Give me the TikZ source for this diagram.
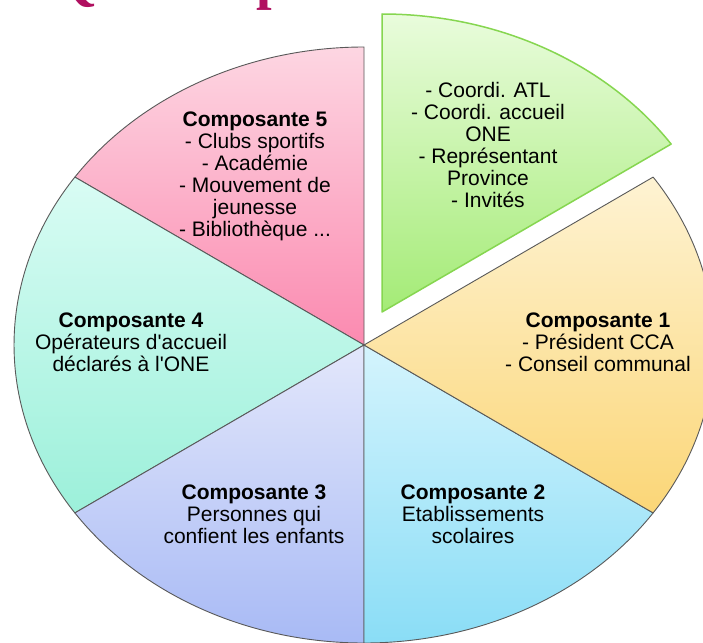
\documentclass[tikz,border=0pt]{standalone}
\usepackage{fontspec}
\setmainfont{Liberation Sans}[Ligatures=TeXOff]
\newfontfamily\titlefont{Liberation Serif}
\definecolor{titlecol}{RGB}{176,16,96}
\definecolor{pinkT}{HTML}{FDD6E2}\definecolor{pinkB}{HTML}{FB8AB0}
\definecolor{greenT}{HTML}{E9FCDC}\definecolor{greenB}{HTML}{A4EB76}
\definecolor{greenL}{HTML}{86D650}
\definecolor{yelT}{HTML}{FEF3D3}\definecolor{yelB}{HTML}{FBD677}
\definecolor{bluT}{HTML}{D4F4FD}\definecolor{bluB}{HTML}{8ADDF6}
\definecolor{lavT}{HTML}{E3E7FB}\definecolor{lavB}{HTML}{A8BAF5}
\definecolor{cyaT}{HTML}{D9FCF4}\definecolor{cyaB}{HTML}{9CF0DA}
\begin{document}
\begin{tikzpicture}[x=1pt,y=1pt,
  slice/.style={draw=black!65, line width=0.9pt, line join=round},
  lbl/.style={align=center, inner sep=0pt, anchor=north, text=black,
    font=\fontsize{21}{22}\selectfont}
]
\useasboundingbox (0,0) rectangle (703,-642);
\clip (0,0) rectangle (703,-642);
\fill[white] (0,0) rectangle (703,-642);
\coordinate (O) at (364,-345);
\coordinate (G) at (382,-312);
% title (cut at the top)
\node[anchor=base west, inner sep=0pt, text=titlecol,
  font=\titlefont\bfseries\fontsize{56}{60}\selectfont] (title) at (53,1) {Qui compose la CCA ?};
% slices
\path[slice, top color=pinkT, bottom color=pinkB] (O) -- ++(90:350 and 298)
  arc[start angle=90, end angle=145.7, x radius=350, y radius=298] -- cycle;
\path[slice, top color=cyaT, bottom color=cyaB] (O) -- ++(145.7:350 and 298)
  arc[start angle=145.7, end angle=214.3, x radius=350, y radius=298] -- cycle;
\path[slice, top color=lavT, bottom color=lavB] (O) -- ++(214.3:350 and 298)
  arc[start angle=214.3, end angle=270, x radius=350, y radius=298] -- cycle;
\path[slice, top color=bluT, bottom color=bluB] (O) -- ++(270:350 and 298)
  arc[start angle=270, end angle=325.7, x radius=350, y radius=298] -- cycle;
\path[slice, top color=yelT, bottom color=yelB] (O) -- ++(-34.3:350 and 298)
  arc[start angle=-34.3, end angle=34.3, x radius=350, y radius=298] -- cycle;
\path[slice, draw=greenL, line width=1.5pt, top color=greenT, bottom color=greenB] (G) -- ++(34.3:350 and 298)
  arc[start angle=34.3, end angle=90, x radius=350, y radius=298] -- cycle;
% labels
\node[lbl] (g) at (488,-82) {- Coordi. ATL\\- Coordi. accueil\\ONE\\- Représentant\\Province\\- Invités};
\node[lbl] (c5) at (255,-112) {\textbf{Composante 5}\\- Clubs sportifs\\- Académie\\- Mouvement de\\jeunesse\\- Bibliothèque ...};
\node[lbl] (c4) at (131,-313) {\textbf{Composante 4}\\Opérateurs d\char"0027 accueil\\déclarés à l\char"0027 ONE};
\node[lbl] (c3) at (254,-485) {\textbf{Composante 3}\\Personnes qui\\confient les enfants};
\node[lbl] (c2) at (473,-485) {\textbf{Composante 2}\\Etablissements\\scolaires};
\node[lbl] (c1) at (598,-313) {\textbf{Composante 1}\\- Président CCA\\- Conseil communal};
\end{tikzpicture}
\end{document}
